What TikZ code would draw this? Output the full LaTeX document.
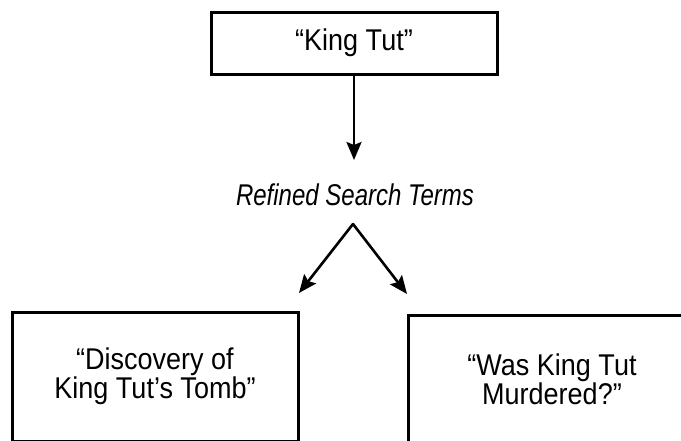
\documentclass[tikz,border=0pt]{standalone}
\usepackage{fontspec}
\setmainfont{Liberation Sans}[FakeStretch=0.8]
\newfontfamily\boxfont{Liberation Sans}[FakeStretch=0.9]
\usetikzlibrary{arrows.meta}

\tikzset{
  termbox/.style={draw, line width=3pt, rectangle, align=center,
    font=\fontsize{30}{29}\selectfont\boxfont},
  arr/.style={line width=2.6pt, -{Stealth[length=18pt,width=15pt,inset=3pt]}}
}

\begin{document}
\begin{tikzpicture}[x=1pt,y=-1pt]
\clip (0,0) rectangle (681,440);
% search terms
\node[termbox, minimum width=286pt, minimum height=62pt] (kingtut) at (354,43) {“King Tut”};
\node[anchor=base, font=\fontsize{30}{29}\selectfont\itshape] (refined) at (355,205) {Refined Search Terms};
\node[termbox, minimum width=286pt, minimum height=129pt] (tomb) at (155,376.5) {“Discovery of\\King Tut’s Tomb”};
\node[termbox, minimum width=288pt, minimum height=129pt] (murder) at (552,379.5) {“Was King Tut\\Murdered?”};
\coordinate (down) at (354,160);
\coordinate (apex) at (353,224);
\coordinate (lefttip) at (299,293);
\coordinate (righttip) at (407,294);
\draw[arr] (kingtut.south) -- (down);
\draw[arr, line cap=round] (apex) -- (lefttip);
\draw[arr, line cap=round] (apex) -- (righttip);
\end{tikzpicture}
\end{document}
